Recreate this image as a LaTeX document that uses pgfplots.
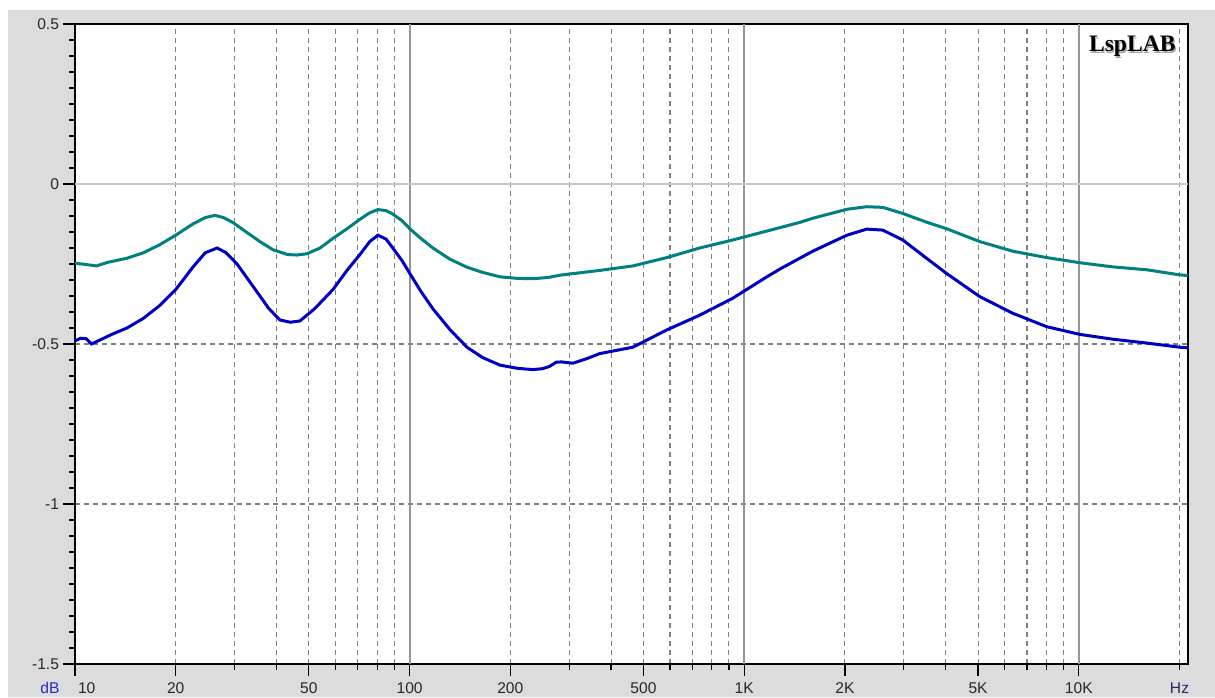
\documentclass[border=0pt]{standalone}
\usepackage{fontspec}
\setmainfont{Liberation Sans}
\newfontfamily\lspfont{Liberation Serif}
\usepackage{pgfplots}
\pgfplotsset{compat=1.18}
\definecolor{bg}{RGB}{220,220,220}
\definecolor{tealc}{RGB}{0,128,128}
\definecolor{bluec}{RGB}{0,0,192}
\definecolor{gridd}{RGB}{128,128,128}
\definecolor{gridsolid}{RGB}{150,150,150}
\definecolor{gridzero}{RGB}{200,200,200}
\definecolor{dbcol}{RGB}{40,40,200}
\definecolor{hzcol}{RGB}{40,40,100}
\definecolor{labcol}{RGB}{40,40,40}
\begin{document}
\begin{tikzpicture}
\fill[white] (-37.5pt,-16.5pt) rectangle (570pt,332pt);
\fill[bg] (-33.5pt,-16.5pt) rectangle (570pt,327pt);
\useasboundingbox (-37.5pt,-16.5pt) rectangle (570pt,332pt);
\begin{axis}[
  at={(0,0)}, anchor=south west,
  scale only axis, width=556.5pt, height=320pt,
  xmode=log, xmin=10, xmax=21200, ymin=-1.5, ymax=0.5,
  clip=false,
  axis background/.style={fill=white},
  axis line style={line width=1.2pt, black},
  tick align=outside,
  xtick pos=left, ytick pos=left,
  major tick length=6pt, minor tick length=3pt,
  every tick/.style={black, line width=0.6pt},
  xtick={10,20,50,100,200,500,1000,2000,5000,10000},
  xticklabels={\makebox[0pt][l]{\kern1.5pt 10},20,50,100,200,500,1K,2K,5K,10K},
  minor xtick={20,30,40,50,60,70,80,90,200,300,400,500,600,700,800,900,2000,3000,4000,5000,6000,7000,8000,9000,20000},
  xmajorgrids=false, xminorgrids=true,
  minor grid style={gridd, dash pattern=on 2.5pt off 2pt, line width=0.55pt},
  ytick={-1.5,-1,-0.5,0,0.5},
  yticklabels={-1.5,-1,-0.5,0,0.5},
  minor ytick={-1.45,-1.4,-1.35,-1.3,-1.25,-1.2,-1.15,-1.1,-1.05,-0.95,-0.9,-0.85,-0.8,-0.75,-0.7,-0.65,-0.6,-0.55,-0.45,-0.4,-0.35,-0.3,-0.25,-0.2,-0.15,-0.1,-0.05,0.05,0.1,0.15,0.2,0.25,0.3,0.35,0.4,0.45},
  ymajorgrids=true, yminorgrids=false,
  major grid style={gridd, dash pattern=on 2.5pt off 2pt, line width=0.55pt},
  extra x ticks={100,1000,10000},
  extra x tick labels={},
  extra x tick style={xmajorgrids=true, major grid style={gridsolid, solid, line width=0.9pt}},
  extra y ticks={0},
  extra y tick labels={},
  extra y tick style={ymajorgrids=true, major grid style={gridzero, solid, line width=0.9pt}},
  ticklabel style={font=\fontsize{7.8}{9}\selectfont, text=labcol},
  yticklabel style={anchor=east, xshift=1.5pt},
  xticklabel style={anchor=north},
]
\addplot[tealc, line width=1.5pt] coordinates {
(10,-0.248) (10.5,-0.25) (11.6,-0.256) (12.5,-0.245) (14.3,-0.232) (16,-0.215)
(17.9,-0.19) (20,-0.16) (22.5,-0.125) (24.5,-0.105) (26.2,-0.098) (27.8,-0.105)
(29.6,-0.12) (32.5,-0.15) (35.7,-0.18) (39,-0.205) (43,-0.22) (46,-0.222)
(49.3,-0.218) (54,-0.2) (59,-0.17) (65,-0.14) (71.1,-0.11) (76,-0.09)
(80.4,-0.08) (85,-0.083) (89.1,-0.094) (95,-0.115) (100.2,-0.14) (108,-0.17)
(117.4,-0.2) (132,-0.235) (148.4,-0.26) (165,-0.276) (186.2,-0.29) (210,-0.295)
(233.6,-0.296) (260,-0.292) (281,-0.285) (320,-0.278) (370,-0.27) (465,-0.256)
(587,-0.23) (736,-0.2) (924,-0.175) (1169,-0.147) (1466,-0.12) (1603,-0.107)
(2027,-0.079) (2324,-0.071) (2594,-0.073) (2978,-0.092) (3480,-0.118) (4030,-0.14)
(5058,-0.18) (6351,-0.21) (8020,-0.23) (10070,-0.246) (12630,-0.259) (15950,-0.268)
(20040,-0.284) (21200,-0.286)
};
\addplot[bluec, line width=1.5pt] coordinates {
(10,-0.49) (10.4,-0.482) (10.8,-0.483) (11.2,-0.5) (11.9,-0.487) (13,-0.468)
(14.3,-0.45) (16,-0.42) (17.9,-0.38) (20,-0.33) (22.5,-0.26) (24.5,-0.215)
(26.6,-0.2) (28.3,-0.215) (30.5,-0.25) (33,-0.3) (35.7,-0.35) (38,-0.39)
(41,-0.425) (44,-0.432) (47,-0.428) (52,-0.39) (59,-0.33) (65,-0.27)
(71.1,-0.22) (76,-0.18) (80.4,-0.16) (85,-0.172) (89.1,-0.2) (95,-0.24)
(100.2,-0.28) (108,-0.335) (117.4,-0.39) (132,-0.455) (148.4,-0.51) (165,-0.542)
(186.2,-0.566) (210,-0.576) (233.6,-0.58) (250,-0.577) (262,-0.57) (274,-0.557)
(284,-0.556) (308,-0.56) (340,-0.545) (370,-0.53) (465,-0.51) (587,-0.456)
(736,-0.41) (924,-0.357) (1169,-0.29) (1277,-0.266) (1603,-0.21) (2027,-0.16)
(2324,-0.141) (2594,-0.144) (2978,-0.175) (3589,-0.24) (4030,-0.28) (5058,-0.352)
(6351,-0.404) (8020,-0.446) (10070,-0.47) (12630,-0.485) (15950,-0.497) (20040,-0.51)
(21200,-0.512)
};
\coordinate (hz) at (axis cs:20000,-1.5);
\coordinate (db) at (axis cs:10,-1.5);
\coordinate (tr) at (rel axis cs:1,1);
\end{axis}
\node[anchor=north east, inner sep=0pt, text=gray!70, font=\lspfont\bfseries\fontsize{11.8}{13}\selectfont] at ([xshift=-5.4pt,yshift=-6.6pt]tr) {LspLAB};
\node[anchor=north east, inner sep=0pt, text=black, font=\lspfont\bfseries\fontsize{11.8}{13}\selectfont] at ([xshift=-6pt,yshift=-6pt]tr) {LspLAB};
\node[inner sep=0pt, text=hzcol, font=\fontsize{7.8}{9}\selectfont] at ([yshift=-12pt]hz) {Hz};
\node[inner sep=0pt, text=dbcol, font=\fontsize{7.8}{9}\selectfont] at ([xshift=-12.5pt,yshift=-12pt]db) {dB};
\end{tikzpicture}
\end{document}
